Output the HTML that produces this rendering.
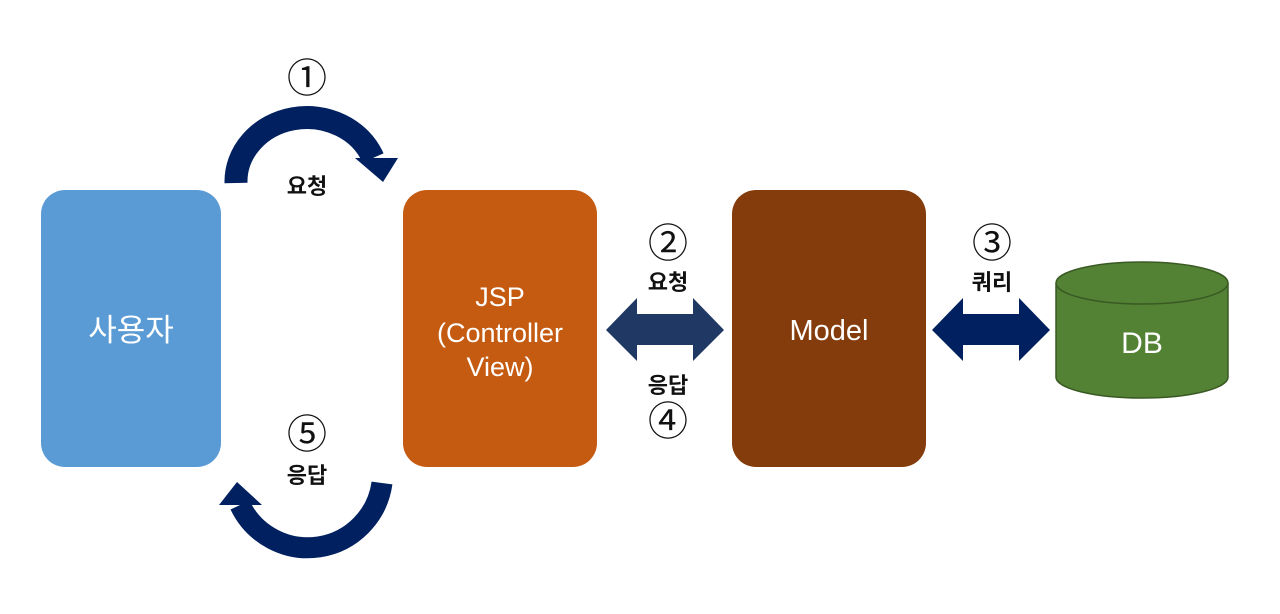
<!DOCTYPE html>
<html><head><meta charset="utf-8"><style>
body{margin:0;background:#fff;}
svg{display:block}
text{font-family:"Liberation Sans","Noto Sans CJK KR",sans-serif;}
</style></head><body>
<svg width="1280" height="614" viewBox="0 0 1280 614" xmlns="http://www.w3.org/2000/svg">
<rect x="41" y="190" width="180" height="277" rx="24" fill="#5b9bd5"/>
<rect x="403" y="190" width="194" height="277" rx="24" fill="#c55a11"/>
<rect x="732" y="190" width="194" height="277" rx="24" fill="#843c0c"/>
<text x="131" y="341" font-size="31" fill="#fff" text-anchor="middle">사용자</text>
<text x="500" y="306" font-size="27" fill="#fff" text-anchor="middle">JSP</text>
<text x="500" y="342" font-size="27" fill="#fff" text-anchor="middle">(Controller</text>
<text x="500" y="376" font-size="27" fill="#fff" text-anchor="middle">View)</text>
<text x="829" y="340" font-size="29" fill="#fff" text-anchor="middle">Model</text>
<!-- DB -->
<path d="M1056 283 L1056 377 A86 21 0 0 0 1228 377 L1228 283" fill="#548235" stroke="#3a5a24" stroke-width="1.5"/>
<ellipse cx="1142" cy="283" rx="86" ry="21" fill="#548235" stroke="#3a5a24" stroke-width="1.5"/>
<text x="1142" y="353" font-size="30" fill="#fff" text-anchor="middle">DB</text>
<!-- double arrows -->
<polygon points="606,330 637,298 637,314 693,314 693,298 724,330 693,361 693,345 637,345 637,361" fill="#203864"/>
<polygon points="932,330 963,298 963,314 1019,314 1019,298 1050,330 1019,361 1019,345 963,345 963,361" fill="#002060"/>
<!-- curved arrows -->
<path d="M236 183 A71 64 0 0 1 373 158" fill="none" stroke="#002060" stroke-width="23"/>
<polygon points="355,158 398,158 383,182" fill="#002060"/>
<path d="M382 483 A75 75 0 0 1 240 505" fill="none" stroke="#002060" stroke-width="21"/>
<polygon points="219,505 262,505 237,482" fill="#002060"/>
<!-- labels -->
<g font-size="40" fill="#111" text-anchor="middle">
<text x="307" y="92">①</text>
<text x="307" y="448">⑤</text>
<text x="668" y="257">②</text>
<text x="668" y="435">④</text>
<text x="992" y="257">③</text>
</g>
<g font-size="22" font-weight="bold" fill="#111" text-anchor="middle">
<text x="307" y="194">요청</text>
<text x="307" y="483">응답</text>
<text x="668" y="290">요청</text>
<text x="668" y="393">응답</text>
<text x="992" y="290">쿼리</text>
</g>
</svg>
</body></html>
